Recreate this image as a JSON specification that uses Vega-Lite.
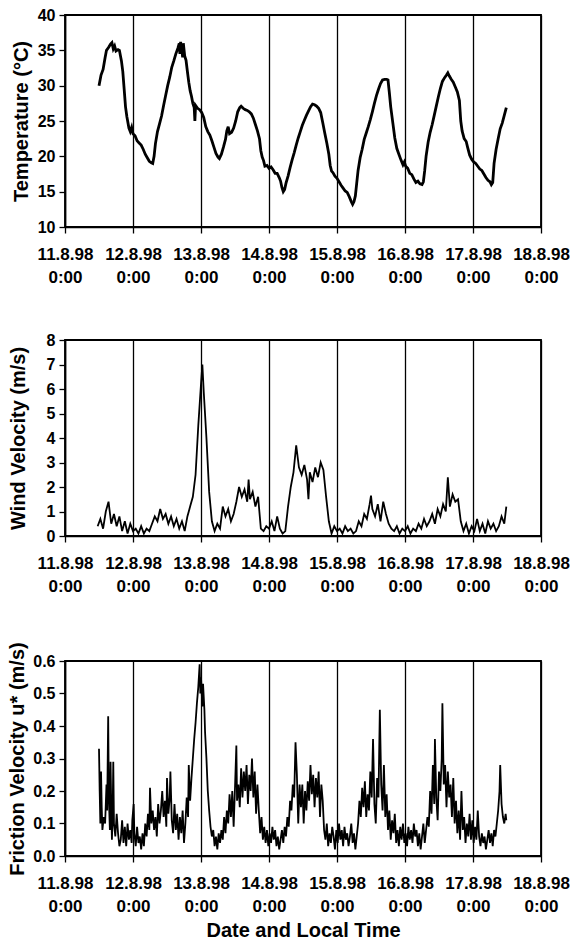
{
"$schema": "https://vega.github.io/schema/vega-lite/v6.json",
"background": "white",
"padding": {"left": 6, "top": 6, "right": 12, "bottom": 4},
"spacing": 45,
"config": {
 "font": "Liberation Sans",
 "view": {"stroke": "black", "strokeWidth": 1.8},
 "axis": {"domainColor": "black", "domainWidth": 1.6, "tickColor": "black", "tickWidth": 1.3, "tickSize": 6, "labelColor": "black", "labelFont": "Liberation Sans", "labelFontWeight": "bold", "labelFontSize": 16, "titleFont": "Liberation Sans", "titleFontWeight": "bold", "titleFontSize": 20, "titleColor": "black"},
 "axisX": {"grid": true, "gridColor": "black", "gridWidth": 1.3, "gridOpacity": 1, "labelFontSize": 17, "labelLineHeight": 23, "labelPadding": 13, "labelFlush": false, "labelOverlap": false},
 "axisY": {"grid": false, "labelPadding": 4}
},
"datasets": {
"temp": [
{"d":0.50,"v":30.0},{"d":0.53,"v":31.5},{"d":0.56,"v":32.3},{"d":0.59,"v":34.0},{"d":0.61,"v":35.0},{"d":0.64,"v":35.4},{"d":0.67,"v":35.9},{"d":0.69,"v":36.1},{"d":0.71,"v":35.2},{"d":0.73,"v":35.6},{"d":0.75,"v":34.9},{"d":0.78,"v":35.1},{"d":0.80,"v":35.0},{"d":0.83,"v":33.5},{"d":0.85,"v":32.0},{"d":0.87,"v":29.5},{"d":0.89,"v":27.0},{"d":0.91,"v":25.6},{"d":0.94,"v":24.0},{"d":0.96,"v":23.5},{"d":0.98,"v":24.1},{"d":1.00,"v":23.2},{"d":1.03,"v":22.9},{"d":1.06,"v":22.2},{"d":1.09,"v":21.9},{"d":1.12,"v":21.6},{"d":1.15,"v":21.0},{"d":1.18,"v":20.3},{"d":1.21,"v":19.8},{"d":1.24,"v":19.3},{"d":1.27,"v":19.1},{"d":1.29,"v":19.0},{"d":1.31,"v":20.0},{"d":1.33,"v":21.8},{"d":1.36,"v":23.5},{"d":1.39,"v":24.6},{"d":1.42,"v":25.7},{"d":1.45,"v":27.2},{"d":1.48,"v":28.6},{"d":1.51,"v":30.0},{"d":1.54,"v":31.2},{"d":1.57,"v":32.6},{"d":1.60,"v":33.5},{"d":1.63,"v":34.5},{"d":1.66,"v":35.3},{"d":1.68,"v":36.0},{"d":1.69,"v":34.5},{"d":1.70,"v":36.2},{"d":1.72,"v":35.0},{"d":1.73,"v":34.0},{"d":1.74,"v":36.0},{"d":1.76,"v":34.2},{"d":1.78,"v":33.6},{"d":1.80,"v":32.0},{"d":1.82,"v":30.5},{"d":1.84,"v":29.3},{"d":1.86,"v":28.5},{"d":1.88,"v":27.5},{"d":1.90,"v":26.9},{"d":1.91,"v":25.0},{"d":1.92,"v":27.2},{"d":1.95,"v":26.8},{"d":1.98,"v":26.6},{"d":2.01,"v":26.2},{"d":2.04,"v":25.5},{"d":2.07,"v":24.2},{"d":2.10,"v":23.5},{"d":2.13,"v":23.0},{"d":2.16,"v":22.2},{"d":2.19,"v":21.3},{"d":2.22,"v":20.4},{"d":2.25,"v":19.9},{"d":2.27,"v":19.7},{"d":2.30,"v":20.3},{"d":2.33,"v":21.3},{"d":2.36,"v":22.4},{"d":2.38,"v":23.6},{"d":2.40,"v":24.2},{"d":2.42,"v":23.2},{"d":2.45,"v":23.4},{"d":2.48,"v":24.0},{"d":2.51,"v":25.0},{"d":2.54,"v":26.3},{"d":2.57,"v":26.9},{"d":2.59,"v":27.1},{"d":2.62,"v":26.8},{"d":2.65,"v":26.6},{"d":2.68,"v":26.5},{"d":2.71,"v":26.3},{"d":2.74,"v":26.0},{"d":2.77,"v":25.4},{"d":2.80,"v":24.5},{"d":2.83,"v":23.6},{"d":2.86,"v":22.5},{"d":2.88,"v":20.8},{"d":2.90,"v":19.9},{"d":2.92,"v":19.4},{"d":2.94,"v":18.6},{"d":2.97,"v":18.7},{"d":3.00,"v":18.3},{"d":3.03,"v":18.5},{"d":3.06,"v":18.1},{"d":3.09,"v":17.6},{"d":3.12,"v":17.6},{"d":3.15,"v":17.0},{"d":3.17,"v":16.5},{"d":3.19,"v":15.6},{"d":3.21,"v":15.0},{"d":3.23,"v":15.3},{"d":3.25,"v":16.2},{"d":3.28,"v":17.2},{"d":3.31,"v":18.4},{"d":3.34,"v":19.5},{"d":3.37,"v":20.5},{"d":3.40,"v":21.6},{"d":3.43,"v":22.6},{"d":3.46,"v":23.5},{"d":3.49,"v":24.4},{"d":3.52,"v":25.1},{"d":3.55,"v":25.8},{"d":3.58,"v":26.4},{"d":3.61,"v":27.0},{"d":3.64,"v":27.4},{"d":3.67,"v":27.3},{"d":3.70,"v":27.1},{"d":3.73,"v":26.8},{"d":3.76,"v":26.2},{"d":3.79,"v":24.8},{"d":3.82,"v":23.3},{"d":3.85,"v":21.9},{"d":3.88,"v":20.3},{"d":3.90,"v":18.7},{"d":3.92,"v":17.9},{"d":3.94,"v":17.7},{"d":3.97,"v":17.2},{"d":4.00,"v":16.9},{"d":4.03,"v":16.4},{"d":4.06,"v":15.9},{"d":4.09,"v":15.5},{"d":4.12,"v":15.1},{"d":4.15,"v":14.9},{"d":4.18,"v":14.3},{"d":4.21,"v":13.6},{"d":4.23,"v":13.2},{"d":4.25,"v":13.6},{"d":4.27,"v":14.4},{"d":4.29,"v":16.2},{"d":4.31,"v":18.0},{"d":4.34,"v":19.8},{"d":4.37,"v":21.0},{"d":4.40,"v":22.4},{"d":4.43,"v":23.3},{"d":4.46,"v":24.2},{"d":4.49,"v":25.2},{"d":4.52,"v":26.3},{"d":4.55,"v":27.5},{"d":4.58,"v":28.6},{"d":4.61,"v":29.5},{"d":4.64,"v":30.3},{"d":4.67,"v":30.8},{"d":4.70,"v":30.9},{"d":4.73,"v":30.9},{"d":4.75,"v":30.8},{"d":4.77,"v":29.0},{"d":4.79,"v":27.0},{"d":4.82,"v":24.8},{"d":4.85,"v":22.6},{"d":4.88,"v":21.1},{"d":4.91,"v":20.3},{"d":4.94,"v":19.5},{"d":4.97,"v":18.8},{"d":4.99,"v":19.2},{"d":5.01,"v":18.6},{"d":5.04,"v":18.3},{"d":5.07,"v":17.6},{"d":5.10,"v":17.4},{"d":5.13,"v":16.8},{"d":5.16,"v":16.3},{"d":5.19,"v":16.5},{"d":5.22,"v":16.1},{"d":5.25,"v":16.0},{"d":5.27,"v":16.4},{"d":5.29,"v":18.0},{"d":5.31,"v":20.0},{"d":5.34,"v":22.0},{"d":5.37,"v":23.4},{"d":5.40,"v":24.5},{"d":5.43,"v":25.8},{"d":5.46,"v":27.1},{"d":5.49,"v":28.4},{"d":5.52,"v":29.6},{"d":5.55,"v":30.6},{"d":5.58,"v":31.1},{"d":5.61,"v":31.5},{"d":5.63,"v":31.8},{"d":5.65,"v":31.4},{"d":5.68,"v":30.9},{"d":5.71,"v":30.5},{"d":5.74,"v":29.8},{"d":5.77,"v":29.1},{"d":5.80,"v":27.9},{"d":5.82,"v":25.0},{"d":5.84,"v":23.6},{"d":5.87,"v":22.5},{"d":5.90,"v":22.1},{"d":5.92,"v":21.3},{"d":5.95,"v":20.2},{"d":5.98,"v":19.6},{"d":6.01,"v":19.2},{"d":6.04,"v":19.0},{"d":6.07,"v":18.6},{"d":6.10,"v":18.2},{"d":6.13,"v":18.0},{"d":6.16,"v":17.5},{"d":6.19,"v":17.0},{"d":6.22,"v":16.6},{"d":6.25,"v":16.4},{"d":6.27,"v":16.0},{"d":6.29,"v":16.3},{"d":6.31,"v":19.0},{"d":6.34,"v":21.0},{"d":6.37,"v":22.5},{"d":6.40,"v":23.9},{"d":6.43,"v":24.7},{"d":6.46,"v":25.8},{"d":6.49,"v":26.9}
],
"wind": [
{"d":0.48,"v":0.4},{"d":0.52,"v":0.7},{"d":0.56,"v":0.3},{"d":0.60,"v":1.0},{"d":0.64,"v":1.4},{"d":0.68,"v":0.5},{"d":0.72,"v":0.9},{"d":0.76,"v":0.4},{"d":0.80,"v":0.8},{"d":0.84,"v":0.2},{"d":0.88,"v":0.6},{"d":0.92,"v":0.1},{"d":0.96,"v":0.5},{"d":1.00,"v":0.2},{"d":1.04,"v":0.3},{"d":1.08,"v":0.1},{"d":1.12,"v":0.4},{"d":1.16,"v":0.1},{"d":1.20,"v":0.3},{"d":1.24,"v":0.2},{"d":1.28,"v":0.5},{"d":1.32,"v":0.8},{"d":1.36,"v":0.6},{"d":1.40,"v":1.1},{"d":1.44,"v":0.7},{"d":1.48,"v":0.9},{"d":1.52,"v":0.5},{"d":1.56,"v":0.8},{"d":1.60,"v":0.4},{"d":1.64,"v":0.7},{"d":1.68,"v":0.3},{"d":1.72,"v":0.6},{"d":1.76,"v":0.2},{"d":1.80,"v":0.8},{"d":1.84,"v":1.2},{"d":1.88,"v":1.6},{"d":1.92,"v":2.5},{"d":1.96,"v":4.5},{"d":2.00,"v":6.2},{"d":2.02,"v":7.0},{"d":2.04,"v":5.9},{"d":2.08,"v":4.0},{"d":2.12,"v":1.8},{"d":2.16,"v":0.6},{"d":2.20,"v":0.2},{"d":2.24,"v":0.5},{"d":2.28,"v":0.3},{"d":2.32,"v":1.2},{"d":2.36,"v":0.8},{"d":2.40,"v":1.1},{"d":2.44,"v":0.6},{"d":2.48,"v":0.9},{"d":2.52,"v":1.4},{"d":2.56,"v":2.0},{"d":2.60,"v":1.6},{"d":2.64,"v":1.9},{"d":2.68,"v":1.4},{"d":2.70,"v":2.3},{"d":2.72,"v":1.5},{"d":2.76,"v":1.8},{"d":2.80,"v":1.2},{"d":2.84,"v":1.6},{"d":2.88,"v":0.3},{"d":2.92,"v":0.2},{"d":2.96,"v":0.4},{"d":3.00,"v":0.3},{"d":3.04,"v":0.6},{"d":3.08,"v":0.2},{"d":3.12,"v":0.8},{"d":3.16,"v":0.3},{"d":3.20,"v":0.1},{"d":3.24,"v":0.2},{"d":3.28,"v":1.2},{"d":3.32,"v":2.0},{"d":3.36,"v":2.6},{"d":3.40,"v":3.7},{"d":3.44,"v":2.8},{"d":3.48,"v":2.5},{"d":3.52,"v":2.9},{"d":3.56,"v":2.3},{"d":3.58,"v":1.5},{"d":3.60,"v":2.6},{"d":3.64,"v":2.2},{"d":3.68,"v":2.8},{"d":3.72,"v":2.4},{"d":3.76,"v":3.0},{"d":3.80,"v":2.7},{"d":3.84,"v":1.6},{"d":3.88,"v":0.6},{"d":3.92,"v":0.1},{"d":3.96,"v":0.4},{"d":4.00,"v":0.2},{"d":4.04,"v":0.3},{"d":4.08,"v":0.1},{"d":4.12,"v":0.4},{"d":4.16,"v":0.2},{"d":4.20,"v":0.3},{"d":4.24,"v":0.1},{"d":4.28,"v":0.2},{"d":4.32,"v":0.6},{"d":4.36,"v":0.4},{"d":4.40,"v":0.9},{"d":4.44,"v":0.7},{"d":4.48,"v":1.3},{"d":4.50,"v":1.65},{"d":4.52,"v":1.1},{"d":4.56,"v":0.8},{"d":4.60,"v":1.3},{"d":4.64,"v":0.6},{"d":4.68,"v":1.4},{"d":4.72,"v":0.9},{"d":4.76,"v":0.5},{"d":4.80,"v":0.3},{"d":4.84,"v":0.2},{"d":4.88,"v":0.4},{"d":4.92,"v":0.1},{"d":4.96,"v":0.3},{"d":5.00,"v":0.2},{"d":5.04,"v":0.4},{"d":5.08,"v":0.1},{"d":5.12,"v":0.3},{"d":5.16,"v":0.2},{"d":5.20,"v":0.5},{"d":5.24,"v":0.3},{"d":5.28,"v":0.7},{"d":5.32,"v":0.4},{"d":5.36,"v":0.6},{"d":5.40,"v":0.9},{"d":5.44,"v":0.5},{"d":5.48,"v":1.1},{"d":5.52,"v":0.8},{"d":5.56,"v":1.3},{"d":5.60,"v":1.0},{"d":5.63,"v":2.4},{"d":5.66,"v":1.2},{"d":5.70,"v":1.7},{"d":5.74,"v":1.4},{"d":5.78,"v":1.5},{"d":5.82,"v":0.6},{"d":5.86,"v":0.2},{"d":5.90,"v":0.5},{"d":5.94,"v":0.1},{"d":5.98,"v":0.4},{"d":6.02,"v":0.2},{"d":6.06,"v":0.7},{"d":6.10,"v":0.2},{"d":6.14,"v":0.5},{"d":6.18,"v":0.1},{"d":6.22,"v":0.6},{"d":6.26,"v":0.3},{"d":6.30,"v":0.5},{"d":6.34,"v":0.2},{"d":6.38,"v":0.4},{"d":6.42,"v":0.8},{"d":6.46,"v":0.5},{"d":6.49,"v":1.2}
],
"ustar": [
{"d":0.50,"v":0.33},{"d":0.51,"v":0.20},{"d":0.52,"v":0.10},{"d":0.53,"v":0.26},{"d":0.54,"v":0.15},{"d":0.55,"v":0.08},{"d":0.57,"v":0.12},{"d":0.59,"v":0.10},{"d":0.61,"v":0.22},{"d":0.62,"v":0.14},{"d":0.635,"v":0.43},{"d":0.645,"v":0.18},{"d":0.66,"v":0.08},{"d":0.67,"v":0.29},{"d":0.68,"v":0.15},{"d":0.69,"v":0.05},{"d":0.70,"v":0.12},{"d":0.71,"v":0.29},{"d":0.72,"v":0.10},{"d":0.74,"v":0.06},{"d":0.76,"v":0.13},{"d":0.78,"v":0.07},{"d":0.80,"v":0.03},{"d":0.82,"v":0.05},{"d":0.84,"v":0.11},{"d":0.86,"v":0.04},{"d":0.88,"v":0.09},{"d":0.90,"v":0.03},{"d":0.92,"v":0.10},{"d":0.94,"v":0.05},{"d":0.96,"v":0.08},{"d":0.98,"v":0.04},{"d":0.99,"v":0.11},{"d":1.01,"v":0.16},{"d":1.02,"v":0.07},{"d":1.04,"v":0.03},{"d":1.06,"v":0.09},{"d":1.08,"v":0.04},{"d":1.10,"v":0.06},{"d":1.12,"v":0.02},{"d":1.14,"v":0.07},{"d":1.16,"v":0.03},{"d":1.18,"v":0.10},{"d":1.20,"v":0.06},{"d":1.22,"v":0.13},{"d":1.24,"v":0.08},{"d":1.25,"v":0.21},{"d":1.27,"v":0.10},{"d":1.29,"v":0.14},{"d":1.31,"v":0.08},{"d":1.33,"v":0.12},{"d":1.35,"v":0.06},{"d":1.37,"v":0.16},{"d":1.39,"v":0.10},{"d":1.41,"v":0.14},{"d":1.43,"v":0.20},{"d":1.45,"v":0.12},{"d":1.47,"v":0.17},{"d":1.49,"v":0.09},{"d":1.50,"v":0.24},{"d":1.52,"v":0.13},{"d":1.54,"v":0.18},{"d":1.55,"v":0.26},{"d":1.57,"v":0.11},{"d":1.59,"v":0.07},{"d":1.61,"v":0.16},{"d":1.63,"v":0.08},{"d":1.65,"v":0.13},{"d":1.67,"v":0.05},{"d":1.69,"v":0.12},{"d":1.71,"v":0.07},{"d":1.73,"v":0.14},{"d":1.75,"v":0.04},{"d":1.77,"v":0.10},{"d":1.79,"v":0.18},{"d":1.81,"v":0.12},{"d":1.82,"v":0.28},{"d":1.84,"v":0.17},{"d":1.86,"v":0.24},{"d":1.88,"v":0.30},{"d":1.90,"v":0.36},{"d":1.92,"v":0.41},{"d":1.94,"v":0.47},{"d":1.96,"v":0.52},{"d":1.98,"v":0.59},{"d":1.99,"v":0.50},{"d":2.00,"v":0.55},{"d":2.02,"v":0.46},{"d":2.03,"v":0.53},{"d":2.05,"v":0.45},{"d":2.06,"v":0.38},{"d":2.08,"v":0.30},{"d":2.10,"v":0.20},{"d":2.12,"v":0.14},{"d":2.14,"v":0.09},{"d":2.16,"v":0.06},{"d":2.18,"v":0.08},{"d":2.20,"v":0.03},{"d":2.22,"v":0.06},{"d":2.24,"v":0.02},{"d":2.26,"v":0.07},{"d":2.28,"v":0.04},{"d":2.30,"v":0.08},{"d":2.32,"v":0.05},{"d":2.34,"v":0.12},{"d":2.36,"v":0.07},{"d":2.38,"v":0.14},{"d":2.40,"v":0.10},{"d":2.42,"v":0.19},{"d":2.44,"v":0.12},{"d":2.46,"v":0.20},{"d":2.48,"v":0.09},{"d":2.50,"v":0.21},{"d":2.52,"v":0.34},{"d":2.53,"v":0.17},{"d":2.55,"v":0.22},{"d":2.57,"v":0.15},{"d":2.59,"v":0.27},{"d":2.61,"v":0.18},{"d":2.63,"v":0.26},{"d":2.65,"v":0.20},{"d":2.67,"v":0.28},{"d":2.69,"v":0.16},{"d":2.71,"v":0.25},{"d":2.73,"v":0.20},{"d":2.75,"v":0.30},{"d":2.77,"v":0.18},{"d":2.79,"v":0.26},{"d":2.81,"v":0.13},{"d":2.83,"v":0.22},{"d":2.85,"v":0.14},{"d":2.87,"v":0.07},{"d":2.89,"v":0.12},{"d":2.91,"v":0.05},{"d":2.93,"v":0.09},{"d":2.95,"v":0.04},{"d":2.97,"v":0.08},{"d":2.99,"v":0.03},{"d":3.01,"v":0.07},{"d":3.03,"v":0.04},{"d":3.05,"v":0.09},{"d":3.07,"v":0.05},{"d":3.09,"v":0.08},{"d":3.11,"v":0.03},{"d":3.13,"v":0.06},{"d":3.15,"v":0.02},{"d":3.17,"v":0.05},{"d":3.19,"v":0.08},{"d":3.21,"v":0.04},{"d":3.23,"v":0.09},{"d":3.25,"v":0.06},{"d":3.27,"v":0.12},{"d":3.29,"v":0.09},{"d":3.31,"v":0.17},{"d":3.33,"v":0.14},{"d":3.35,"v":0.22},{"d":3.37,"v":0.18},{"d":3.39,"v":0.35},{"d":3.41,"v":0.25},{"d":3.43,"v":0.10},{"d":3.45,"v":0.22},{"d":3.47,"v":0.15},{"d":3.49,"v":0.22},{"d":3.51,"v":0.10},{"d":3.53,"v":0.20},{"d":3.55,"v":0.14},{"d":3.57,"v":0.23},{"d":3.59,"v":0.17},{"d":3.61,"v":0.28},{"d":3.63,"v":0.19},{"d":3.65,"v":0.25},{"d":3.67,"v":0.15},{"d":3.69,"v":0.24},{"d":3.71,"v":0.18},{"d":3.73,"v":0.26},{"d":3.75,"v":0.12},{"d":3.77,"v":0.22},{"d":3.79,"v":0.17},{"d":3.81,"v":0.08},{"d":3.83,"v":0.05},{"d":3.85,"v":0.10},{"d":3.87,"v":0.03},{"d":3.89,"v":0.07},{"d":3.91,"v":0.04},{"d":3.93,"v":0.09},{"d":3.95,"v":0.06},{"d":3.97,"v":0.02},{"d":3.99,"v":0.08},{"d":4.01,"v":0.04},{"d":4.03,"v":0.10},{"d":4.05,"v":0.05},{"d":4.07,"v":0.08},{"d":4.09,"v":0.03},{"d":4.11,"v":0.09},{"d":4.13,"v":0.05},{"d":4.15,"v":0.07},{"d":4.17,"v":0.03},{"d":4.19,"v":0.06},{"d":4.21,"v":0.10},{"d":4.23,"v":0.04},{"d":4.25,"v":0.07},{"d":4.27,"v":0.02},{"d":4.29,"v":0.06},{"d":4.31,"v":0.10},{"d":4.33,"v":0.17},{"d":4.35,"v":0.12},{"d":4.37,"v":0.21},{"d":4.39,"v":0.15},{"d":4.41,"v":0.23},{"d":4.43,"v":0.12},{"d":4.45,"v":0.19},{"d":4.47,"v":0.14},{"d":4.49,"v":0.26},{"d":4.51,"v":0.18},{"d":4.53,"v":0.36},{"d":4.55,"v":0.16},{"d":4.57,"v":0.10},{"d":4.59,"v":0.24},{"d":4.61,"v":0.18},{"d":4.63,"v":0.45},{"d":4.65,"v":0.22},{"d":4.67,"v":0.14},{"d":4.69,"v":0.28},{"d":4.71,"v":0.12},{"d":4.73,"v":0.19},{"d":4.75,"v":0.08},{"d":4.77,"v":0.14},{"d":4.79,"v":0.05},{"d":4.81,"v":0.11},{"d":4.83,"v":0.07},{"d":4.85,"v":0.13},{"d":4.87,"v":0.04},{"d":4.89,"v":0.08},{"d":4.91,"v":0.03},{"d":4.93,"v":0.09},{"d":4.95,"v":0.05},{"d":4.97,"v":0.10},{"d":4.99,"v":0.04},{"d":5.01,"v":0.07},{"d":5.03,"v":0.03},{"d":5.05,"v":0.09},{"d":5.07,"v":0.05},{"d":5.09,"v":0.08},{"d":5.11,"v":0.04},{"d":5.13,"v":0.10},{"d":5.15,"v":0.06},{"d":5.17,"v":0.08},{"d":5.19,"v":0.03},{"d":5.21,"v":0.07},{"d":5.23,"v":0.02},{"d":5.25,"v":0.06},{"d":5.27,"v":0.10},{"d":5.29,"v":0.04},{"d":5.31,"v":0.08},{"d":5.33,"v":0.12},{"d":5.35,"v":0.09},{"d":5.37,"v":0.20},{"d":5.39,"v":0.13},{"d":5.41,"v":0.28},{"d":5.43,"v":0.16},{"d":5.44,"v":0.36},{"d":5.46,"v":0.18},{"d":5.48,"v":0.11},{"d":5.50,"v":0.26},{"d":5.52,"v":0.20},{"d":5.54,"v":0.30},{"d":5.55,"v":0.47},{"d":5.57,"v":0.22},{"d":5.59,"v":0.28},{"d":5.61,"v":0.15},{"d":5.63,"v":0.26},{"d":5.65,"v":0.18},{"d":5.67,"v":0.22},{"d":5.69,"v":0.12},{"d":5.71,"v":0.24},{"d":5.73,"v":0.10},{"d":5.75,"v":0.17},{"d":5.77,"v":0.07},{"d":5.79,"v":0.14},{"d":5.81,"v":0.05},{"d":5.83,"v":0.20},{"d":5.85,"v":0.08},{"d":5.87,"v":0.12},{"d":5.89,"v":0.04},{"d":5.91,"v":0.10},{"d":5.93,"v":0.06},{"d":5.95,"v":0.13},{"d":5.97,"v":0.05},{"d":5.99,"v":0.11},{"d":6.01,"v":0.04},{"d":6.03,"v":0.09},{"d":6.05,"v":0.05},{"d":6.07,"v":0.14},{"d":6.09,"v":0.06},{"d":6.11,"v":0.03},{"d":6.13,"v":0.07},{"d":6.15,"v":0.04},{"d":6.17,"v":0.06},{"d":6.19,"v":0.02},{"d":6.21,"v":0.05},{"d":6.23,"v":0.08},{"d":6.25,"v":0.04},{"d":6.27,"v":0.07},{"d":6.29,"v":0.03},{"d":6.31,"v":0.08},{"d":6.33,"v":0.06},{"d":6.35,"v":0.10},{"d":6.37,"v":0.14},{"d":6.39,"v":0.20},{"d":6.40,"v":0.28},{"d":6.42,"v":0.16},{"d":6.44,"v":0.12},{"d":6.46,"v":0.10},{"d":6.48,"v":0.13},{"d":6.49,"v":0.11}
]
},
"vconcat": [
{
 "width": 476, "height": 212,
 "data": {"name": "temp"},
 "mark": {"type": "line", "color": "black", "strokeWidth": 2.8},
 "encoding": {
  "x": {"field": "d", "type": "quantitative", "scale": {"domain": [0, 7], "nice": false, "zero": false}, "axis": {"title": null, "values": [0,1,2,3,4,5,6,7], "labelExpr": "[(11+datum.value)+'.8.98', '0:00']"}},
  "y": {"field": "v", "type": "quantitative", "scale": {"domain": [10, 40], "nice": false, "zero": false}, "axis": {"title": "Temperature (°C)", "values": [10,15,20,25,30,35,40], "titlePadding": 6}}
 }
},
{
 "width": 476, "height": 196,
 "data": {"name": "wind"},
 "mark": {"type": "line", "color": "black", "strokeWidth": 1.8},
 "encoding": {
  "x": {"field": "d", "type": "quantitative", "scale": {"domain": [0, 7], "nice": false, "zero": false}, "axis": {"title": null, "values": [0,1,2,3,4,5,6,7], "labelExpr": "[(11+datum.value)+'.8.98', '0:00']"}},
  "y": {"field": "v", "type": "quantitative", "scale": {"domain": [0, 8], "nice": false}, "axis": {"title": "Wind Velocity (m/s)", "values": [0,1,2,3,4,5,6,7,8], "titlePadding": 18}}
 }
},
{
 "width": 476, "height": 195,
 "data": {"name": "ustar"},
 "mark": {"type": "line", "color": "black", "strokeWidth": 1.8},
 "encoding": {
  "x": {"field": "d", "type": "quantitative", "scale": {"domain": [0, 7], "nice": false, "zero": false}, "axis": {"title": "Date and Local Time", "titlePadding": 6, "values": [0,1,2,3,4,5,6,7], "labelExpr": "[(11+datum.value)+'.8.98', '0:00']"}},
  "y": {"field": "v", "type": "quantitative", "scale": {"domain": [0, 0.6], "nice": false}, "axis": {"title": "Friction Velocity u* (m/s)", "values": [0,0.1,0.2,0.3,0.4,0.5,0.6], "format": ".1f", "titlePadding": 5}}
 }
}
]
}
